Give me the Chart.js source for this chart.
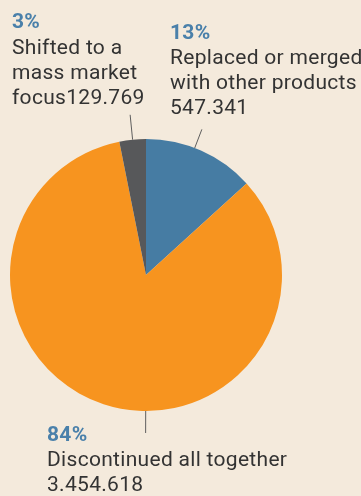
<!DOCTYPE html>
<html>
<head>
<meta charset="utf-8">
<script src="https://cdn.jsdelivr.net/npm/chart.js@4"></script>
<style>
    html, body { margin: 0; padding: 0; background: #f4eadc; }
    #wrap { width: 361px; height: 496px; }
</style>
</head>
<body>
<div id="wrap"><canvas id="chartPie"></canvas></div>
<script>
// dados do grafico
const categorias = [
    'Replaced or merged\nwith other products\n',
    'Discontinued all together\n',
    'Shifted to a\nmass market\nfocus'
]
const valores = [547341, 3454618, 129769]
const cores = ['#467ca3', '#f7941f', '#57585a']

// onde fica cada rotulo (linha guia e texto)
const rotulos = [
    { fracao: 0.44, guia: 20, x: 170, yPct: 38.5, yTexto: 64 },
    { fracao: 0.44, guia: 22, x: 47, yPct: 441, yTexto: 466 },
    { fracao: 0.5, guia: 25, x: 12, yPct: 27.5, yTexto: 54 }
]
const alturaLinha = 25

function formatarNumero(n) {
    return String(n).replace(/\B(?=(\d{3})+(?!\d))/g, '.')
}

const total = valores.reduce((a, b) => a + b, 0)

const pluginRotulos = {
    id: 'rotulos',
    afterDraw(chart) {
        const ctx = chart.ctx
        const arcos = chart.getDatasetMeta(0).data
        ctx.save()
        arcos.forEach((arco, i) => {
            const r = rotulos[i]
            const ang = arco.startAngle + (arco.endAngle - arco.startAngle) * r.fracao
            const x1 = arco.x + Math.cos(ang) * arco.outerRadius
            const y1 = arco.y + Math.sin(ang) * arco.outerRadius
            const x2 = arco.x + Math.cos(ang) * (arco.outerRadius + r.guia)
            const y2 = arco.y + Math.sin(ang) * (arco.outerRadius + r.guia)
            ctx.strokeStyle = '#5e5e5e'
            ctx.lineWidth = 1
            ctx.beginPath()
            ctx.moveTo(x1, y1)
            ctx.lineTo(x2, y2)
            ctx.stroke()

            ctx.textAlign = 'left'
            ctx.textBaseline = 'alphabetic'
            ctx.letterSpacing = '0.3px'
            ctx.fillStyle = '#4a80aa'
            ctx.font = 'bold 21px Roboto'
            const pct = Math.round(valores[i] / total * 100) + '%'
            ctx.fillText(pct, r.x, r.yPct)

            ctx.fillStyle = '#333333'
            ctx.font = '21px Roboto'
            const linhas = (categorias[i] + formatarNumero(valores[i])).split('\n')
            linhas.forEach((linha, j) => {
                ctx.fillText(linha, r.x, r.yTexto + j * alturaLinha)
            })
        })
        ctx.restore()
    }
}

new Chart(document.getElementById('chartPie'), {
    type: 'pie',
    data: {
        labels: categorias,
        datasets: [{
            data: valores,
            backgroundColor: cores,
            borderWidth: 0
        }]
    },
    options: {
        responsive: true,
        maintainAspectRatio: false,
        animation: false,
        layout: {
            padding: { left: 10, right: 79, top: 139, bottom: 85 }
        },
        plugins: {
            legend: { display: false },
            tooltip: { enabled: false }
        }
    },
    plugins: [pluginRotulos]
})
</script>
</body>
</html>
